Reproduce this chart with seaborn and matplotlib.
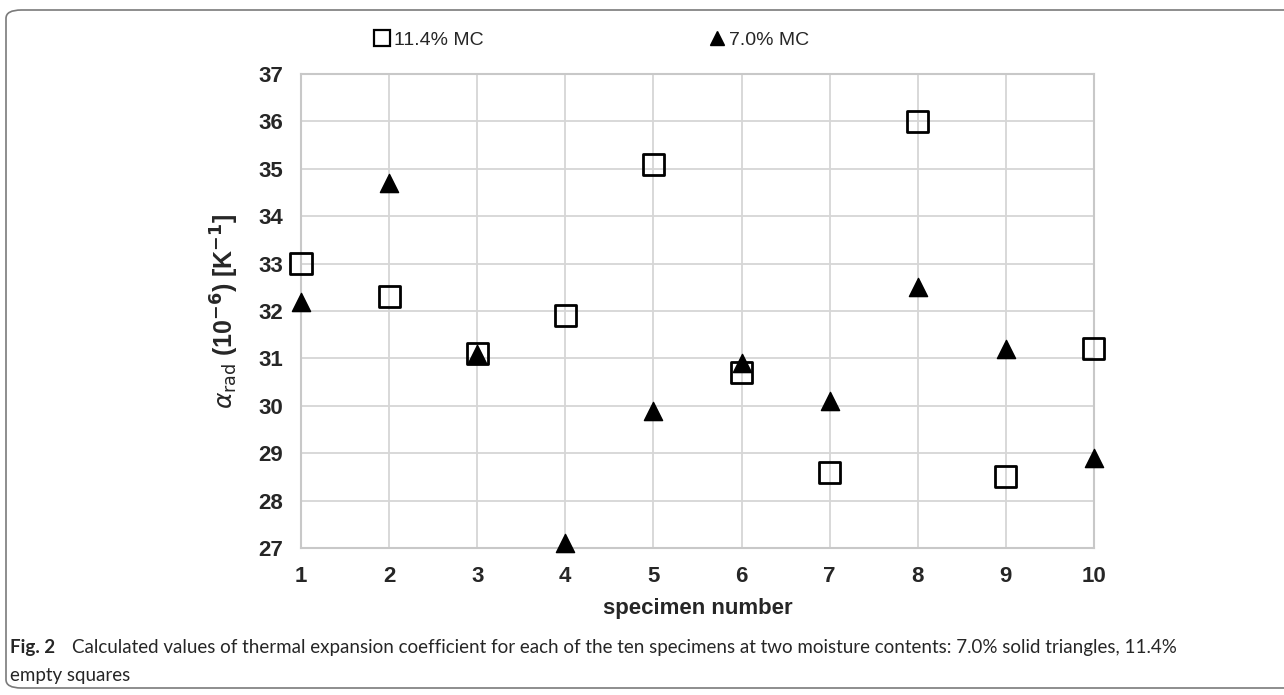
import pandas as pd
import numpy as np
import seaborn as sns
import matplotlib.pyplot as plt
from matplotlib.patches import FancyBboxPatch
from matplotlib.lines import Line2D

specimen = [1, 2, 3, 4, 5, 6, 7, 8, 9, 10]
mc_114 = [33.0, 32.3, 31.1, 31.9, 35.1, 30.7, 28.6, 36.0, 28.5, 31.2]
mc_70 = [32.2, 34.7, 31.1, 27.1, 29.9, 30.9, 30.1, 32.5, 31.2, 28.9]
yticks = [27, 28, 29, 30, 31, 32, 33, 34, 35, 36, 37]

df = pd.DataFrame({'specimen': specimen * 2,
                   'alpha': mc_114 + mc_70,
                   'MC': ['11.4% MC'] * 10 + ['7.0% MC'] * 10})

sns.set_style('white')
plt.rcParams['font.family'] = ['Liberation Sans', 'DejaVu Sans']

fig = plt.figure(figsize=(12.84, 6.95), dpi=100)
ax = fig.add_axes([0.2344, 0.2115, 0.852 - 0.2344, 0.8935 - 0.2115])

# open squares / filled triangles
sq = df[df['MC'] == '11.4% MC']
tr = df[df['MC'] == '7.0% MC']
sns.scatterplot(data=sq, x='specimen', y='alpha', marker='s', s=230,
                facecolor='none', edgecolor='black', linewidth=2, ax=ax,
                clip_on=False, zorder=3)
sns.scatterplot(data=tr, x='specimen', y='alpha', marker='^', s=170,
                color='black', edgecolor='black', ax=ax, clip_on=False, zorder=4)

ax.set_xlim(1, 10)
ax.set_ylim(27, 37)
ax.set_xticks(specimen)
ax.set_yticks(yticks)
ax.grid(True, color='#d6d6d6', linewidth=1.3)
for sp in ax.spines.values():
    sp.set_color('#c8c8c8')
    sp.set_linewidth(1.5)
ax.tick_params(length=0, labelsize=16, pad=13)
for lab in ax.get_xticklabels() + ax.get_yticklabels():
    lab.set_fontweight('bold')

ax.set_xlabel('specimen number', fontsize=16, fontweight='bold', labelpad=8)
ax.set_ylabel(r'$\alpha_{\mathrm{rad}}$ (10$^{\mathbf{-6}}$) [K$^{\mathbf{-1}}$]',
              fontsize=18, fontweight='bold', labelpad=12)

handles = [Line2D([], [], marker='s', ls='none', markersize=11, markerfacecolor='none',
                  markeredgecolor='black', markeredgewidth=1.6),
           Line2D([], [], marker='^', ls='none', markersize=10, color='black')]
fig.legend(handles, ['11.4% MC', '7.0% MC'], loc='center', bbox_to_anchor=(0.46, 0.942),
           ncol=2, frameon=False, fontsize=14, handletextpad=0.1, columnspacing=11.5,
           handlelength=1.0)

cap_font = ['Lato', 'DejaVu Sans']
fig.text(10 / 1284, 1 - 647 / 695, 'Fig. 2', fontsize=13.5, fontweight='bold',
         family=cap_font, va='center')
fig.text(72 / 1284, 1 - 647 / 695,
         'Calculated values of thermal expansion coefficient for each of the ten specimens '
         'at two moisture contents: 7.0% solid triangles, 11.4%',
         fontsize=13.5, family=cap_font, va='center')
fig.text(10 / 1284, 1 - 675 / 695, 'empty squares', fontsize=13.5,
         family=cap_font, va='center')

border = FancyBboxPatch((6 / 1284, 1 - 688 / 695), 1.05, (688 - 10) / 695,
                        boxstyle='round,pad=0,rounding_size=0.012',
                        transform=fig.transFigure, fill=False,
                        edgecolor='#7a7a7a', linewidth=1.2, clip_on=False)
fig.patches.append(border)

plt.savefig('out.png', dpi=100)
